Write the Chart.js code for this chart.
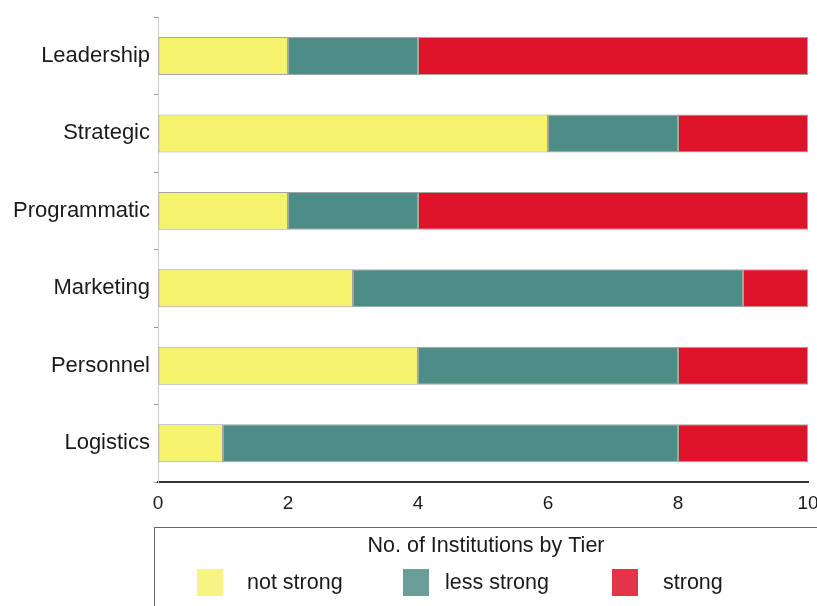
<!DOCTYPE html>
<html>
<head>
<meta charset="utf-8">
<script src="https://cdn.jsdelivr.net/npm/chart.js@4/dist/chart.umd.min.js"></script>
<style>
  html, body { margin: 0; padding: 0; background: #fff; }
  #wrap { width: 817px; height: 606px; }
</style>
</head>
<body>
<div id="wrap"><canvas id="c" width="817" height="606"></canvas></div>
<script>
// Capability areas and institution counts per strength tier
const categories = ['Leadership', 'Strategic', 'Programmatic', 'Marketing', 'Personnel', 'Logistics'];
const notStrong  = [2, 6, 2, 3, 4, 1];
const lessStrong = [2, 2, 2, 6, 4, 7];
const strong     = [6, 2, 6, 1, 2, 2];
const seriesNames = ['not strong', 'less strong', 'strong'];
const xTicks = [0, 2, 4, 6, 8, 10];
const legendTitle = 'No. of Institutions by Tier';

const colors = ['#f5f26c', '#4e8d85', '#de1229'];
const FONT = '"Liberation Sans", Arial, sans-serif';

// Boxed legend with title drawn under the plot
const boxedLegend = {
  id: 'boxedLegend',
  afterDraw(chart) {
    const ctx = chart.ctx;
    ctx.save();
    ctx.strokeStyle = '#666';
    ctx.lineWidth = 1;
    ctx.strokeRect(154.5, 527.5, 700, 120);

    ctx.fillStyle = '#1a1a1a';
    ctx.font = '21.5px ' + FONT;
    ctx.textAlign = 'center';
    ctx.textBaseline = 'middle';
    ctx.fillText(legendTitle, 486, 546);

    const boxX = [197, 403, 612];
    const textX = [247, 445, 663];
    ctx.textAlign = 'left';
    chart.data.datasets.forEach((ds, i) => {
      ctx.fillStyle = ds.backgroundColor;
      ctx.globalAlpha = 0.85;
      ctx.fillRect(boxX[i], 569, 26, 27);
      ctx.globalAlpha = 1;
      ctx.fillStyle = '#1a1a1a';
      ctx.font = '21.5px ' + FONT;
      ctx.fillText(ds.label, textX[i], 583);
    });
    ctx.restore();
  }
};

const datasets = [notStrong, lessStrong, strong].map((vals, i) => ({
  label: seriesNames[i],
  data: vals,
  backgroundColor: colors[i],
  borderColor: 'rgba(90,90,90,0.55)',
  borderWidth: 1,
  borderSkipped: false,
  barPercentage: 0.49,
  categoryPercentage: 1.0
}));

new Chart(document.getElementById('c'), {
  type: 'bar',
  data: { labels: categories, datasets },
  options: {
    indexAxis: 'y',
    responsive: false,
    animation: false,
    devicePixelRatio: 1,
    layout: { padding: { top: 15, right: 9, bottom: 84, left: 0 } },
    plugins: {
      legend: { display: false },
      tooltip: { enabled: false }
    },
    scales: {
      x: {
        stacked: true,
        min: 0,
        max: 10,
        afterBuildTicks(axis) { axis.ticks = xTicks.map(v => ({ value: v })); },
        afterFit(axis) {
          axis.height = 40;
          axis.paddingLeft = 0;
          axis.paddingRight = 0;
        },
        grid: { drawOnChartArea: false, drawTicks: false },
        border: { display: true, color: '#333', width: 2 },
        ticks: {
          padding: 10,
          color: '#1a1a1a',
          font: { family: FONT, size: 19 }
        }
      },
      y: {
        stacked: true,
        afterFit(axis) { axis.width = 158; },
        grid: { offset: true, drawOnChartArea: false, drawTicks: true, tickLength: 4, color: '#999' },
        border: { display: true, color: '#ccc', width: 1 },
        ticks: {
          padding: 4,
          color: '#1a1a1a',
          font: { family: FONT, size: 22 }
        }
      }
    }
  },
  plugins: [boxedLegend]
});
</script>
</body>
</html>
